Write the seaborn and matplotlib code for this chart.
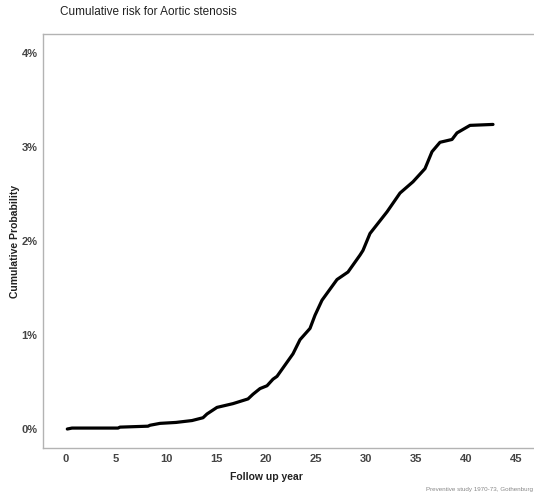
import matplotlib
matplotlib.use("Agg")
import matplotlib.pyplot as plt
import seaborn as sns
import pandas as pd

# Data (year, cumulative probability in %)
years = [0.13, 0.6, 5.2, 5.4, 8.2, 8.4, 9.4, 11.0, 12.6, 13.7, 14.1, 15.1, 16.7, 18.2, 18.7,
         19.4, 20.1, 20.7, 21.1, 21.9, 22.7, 23.4, 24.4, 24.9, 25.6, 27.1, 28.2,
         29.4, 29.7, 30.4, 32.1, 33.4, 34.7, 35.9, 36.6, 37.4, 38.6, 39.1, 40.4, 42.7]
cum_prob = [0.00, 0.01, 0.01, 0.02, 0.03, 0.04, 0.06, 0.07, 0.09, 0.12, 0.16, 0.23, 0.27, 0.32, 0.37,
            0.43, 0.46, 0.53, 0.56, 0.68, 0.80, 0.95, 1.07, 1.21, 1.37, 1.59, 1.67,
            1.85, 1.90, 2.08, 2.31, 2.51, 2.63, 2.77, 2.95, 3.05, 3.08, 3.15, 3.23, 3.24]
x_ticks = [0, 5, 10, 15, 20, 25, 30, 35, 40, 45]
y_ticks = [0, 1, 2, 3, 4]
y_tick_labels = ["0%", "1%", "2%", "3%", "4%"]

title = "Cumulative risk for Aortic stenosis"
x_label = "Follow up year"
y_label = "Cumulative Probability"
caption = "Preventive study 1970-73, Gothenburg"

sns.set_style("white")
plt.rcParams["font.family"] = ["Liberation Sans", "DejaVu Sans"]

df = pd.DataFrame({"year": years, "prob": cum_prob})

W, H = 534, 499
fig = plt.figure(figsize=(W / 100, H / 100), dpi=100)
left, right, top, bottom = 43, 534, 34, 448
ax = fig.add_axes([left / W, 1 - bottom / H, (right - left) / W, (bottom - top) / H])

sns.lineplot(data=df, x="year", y="prob", ax=ax, color="black", linewidth=2.3)

ax.set_xlim(-2.3, 46.8)
ax.set_ylim(-0.202, 4.202)
ax.set_xticks(x_ticks)
ax.set_xticklabels([str(t) for t in x_ticks])
ax.set_yticks(y_ticks)
ax.set_yticklabels(y_tick_labels)

for s in ["left", "bottom", "top"]:
    ax.spines[s].set_visible(True)
    ax.spines[s].set_color("#b3b3b3")
    ax.spines[s].set_linewidth(1.0)
ax.spines["right"].set_visible(False)

ax.tick_params(axis="both", which="major", length=2, width=0.8, color="#b3b3b3",
               labelsize=8, labelcolor="#444444", pad=2)
for lab in ax.get_xticklabels() + ax.get_yticklabels():
    lab.set_fontweight("bold")

ax.set_xlabel(x_label, fontsize=7.5, fontweight="bold", color="#222222")
ax.set_ylabel(y_label, fontsize=7.5, fontweight="bold", color="#222222")
ax.xaxis.set_label_coords((266 - left) / (right - left), -(472 - bottom) / (bottom - top))
ax.yaxis.set_label_coords(-(left - 20) / (right - left), (bottom - 241) / (bottom - top))

fig.text(60 / W, 1 - 12 / H, title, fontsize=8.5, color="#222222", ha="left", va="center")
fig.text(533 / W, 1 - 490 / H, caption, fontsize=4.5, color="#888888", ha="right", va="center")

fig.savefig("out.png", dpi=100)
